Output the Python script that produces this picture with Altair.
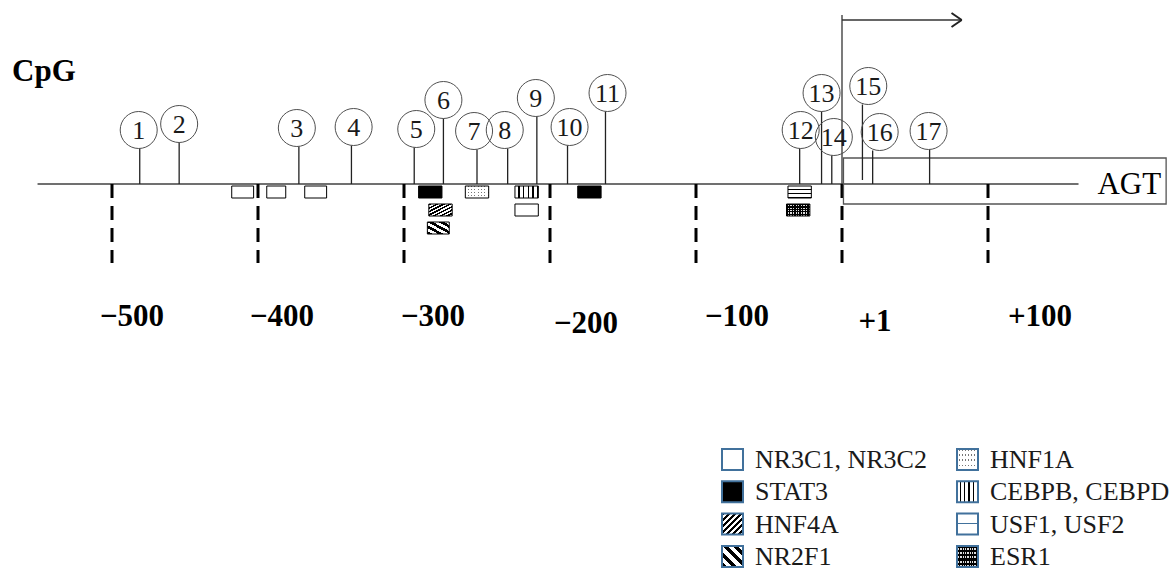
import altair as alt
import pandas as pd

# ---------------- data ----------------
tick_values = [-500, -400, -300, -200, -100, 0, 100]
tick_labels = ["\u2212500", "\u2212400", "\u2212300", "\u2212200", "\u2212100", "+1", "+100"]

cpg_ids = list(range(1, 18))
cpg_pos = [-481, -454, -372, -336, -293, -273, -250, -229, -209, -188, -162,
           -29, -14, -7, 14, 21, 60]

tf_site_names = ["NR3C1, NR3C2", "NR3C1, NR3C2", "NR3C1, NR3C2", "STAT3", "HNF4A",
                 "NR2F1", "HNF1A", "CEBPB, CEBPD", "NR3C1, NR3C2", "STAT3",
                 "USF1, USF2", "ESR1"]
tf_site_start = [-418, -394, -368, -290, -283, -284, -258, -224, -224, -181, -37, -38]
tf_site_end = [-403, -381, -353, -274, -267, -269, -242, -208, -208, -165, -21, -22]

legend_names = ["NR3C1, NR3C2", "STAT3", "HNF4A", "NR2F1",
                "HNF1A", "CEBPB, CEBPD", "USF1, USF2", "ESR1"]

track_start, track_end = -551, 162
agt_start, agt_end = 1, 222
tss_pos = 0
arrow_tip = 82
gene_name = "AGT"
track_title = "CpG"

# ---------------- layout (pixels) ----------------
W, H_TOP, H_LEG = 1171, 420, 150
PX0 = 842          # pixel column of +1
PX_PER_BP = 1.46
X_DOMAIN = [-PX0 / PX_PER_BP, (W - PX0) / PX_PER_BP]
LINE_Y = 184
circle_y = [130, 124, 128, 127, 129, 100, 131, 130, 98, 127, 93, 130, 93, 137, 86, 132, 131]
circle_shift = [-0.7, 0, -1.4, 1.5, 1.4, 0, -2, -2, -0.7, 1.4, 1.4, 0.7, 0, 1.4, 4, 4.8, -0.7]
stem_base = [184] * 14 + [180, 184, 184]
CIRCLE_R = 18.5
label_shift_px = [20, 24, 29, 36, 41, 33, 52]
label_base_y = [326, 326, 326, 333, 326, 331, 326]
tf_row = [0, 0, 0, 0, 1, 2, 0, 0, 1, 0, 0, 1]

SERIF = "Liberation Serif"


def xenc(field):
    return alt.X(f"{field}:Q", scale=alt.Scale(domain=X_DOMAIN, nice=False, zero=False), axis=None)


def yenc(field):
    return alt.Y(f"{field}:Q", scale=alt.Scale(domain=[0, H_TOP], reverse=True, nice=False, zero=False),
                 axis=None)


def lxenc(field):
    return alt.X(f"{field}:Q", scale=alt.Scale(domain=[0, W], nice=False, zero=False), axis=None)


def lyenc(field):
    return alt.Y(f"{field}:Q", scale=alt.Scale(domain=[H_TOP, H_TOP + H_LEG], reverse=True, nice=False,
                                                zero=False), axis=None)


def stripes(k, frac, on, off, x1, y1, x2, y2):
    stops = []
    for i in range(k):
        a = i / k
        b = (i + frac) / k
        c = (i + 1) / k
        stops += [alt.GradientStop(color=on, offset=a), alt.GradientStop(color=on, offset=b),
                  alt.GradientStop(color=off, offset=b), alt.GradientStop(color=off, offset=c)]
    return alt.LinearGradient(gradient="linear", stops=stops, x1=x1, y1=y1, x2=x2, y2=y2)


patterns = {
    "NR3C1, NR3C2": ["white"],
    "STAT3": ["black"],
    "HNF4A": [stripes(7, 0.5, "black", "white", 0, 0, 1, 1)],
    "NR2F1": [stripes(4, 0.5, "black", "white", 0, 1, 1, 0)],
    "HNF1A": [stripes(4, 0.3, "#777777", "white", 0, 0, 0, 1),
              stripes(7, 0.7, "white", "transparent", 0, 0, 1, 0)],
    "CEBPB, CEBPD": [stripes(5, 0.72, "white", "black", 0, 0, 1, 0)],
    "USF1, USF2": [stripes(3, 0.8, "white", "black", 0, 0, 0, 1)],
    "ESR1": [stripes(5, 0.5, "black", "#dddddd", 0, 0, 0, 1),
             stripes(9, 0.5, "black", "transparent", 0, 0, 1, 0)],
}
legend_patterns = dict(patterns)
legend_patterns["USF1, USF2"] = [stripes(2, 0.9, "white", "#41719C", 0, 0, 0, 1)]

# ---------------- frames ----------------
df_track = pd.DataFrame({"s": [track_start], "e": [track_end]})
df_agt = pd.DataFrame({"s": [agt_start], "e": [agt_end], "name": [gene_name]})
df_arrow = pd.DataFrame({"x": [tss_pos], "xe": [arrow_tip]})
df_arrow["xb"] = df_arrow["xe"] - 7

df_ticks = pd.DataFrame({"tick": tick_values, "label": tick_labels,
                         "shift": label_shift_px, "ly": label_base_y})
df_ticks["lx"] = df_ticks["tick"] + df_ticks["shift"] / PX_PER_BP

df_cpg = pd.DataFrame({"id": [str(i) for i in cpg_ids], "pos": cpg_pos, "cy": circle_y,
                       "shift": circle_shift, "base": stem_base})
df_cpg["cx"] = df_cpg["pos"] + df_cpg["shift"]
df_cpg["top"] = df_cpg["cy"] + CIRCLE_R

df_tf = pd.DataFrame({"tf": tf_site_names, "s": tf_site_start, "e": tf_site_end, "row": tf_row})
df_tf["top"] = 186 + df_tf["row"] * 18
df_tf["bot"] = df_tf["top"] + 12

df_leg = pd.DataFrame({"tf": legend_names})
df_leg["col"] = [i // 4 for i in range(len(legend_names))]
df_leg["row"] = [i % 4 for i in range(len(legend_names))]
df_leg["xl"] = 722 + df_leg["col"] * 235
df_leg["xr"] = df_leg["xl"] + 21
df_leg["yt"] = 449 + df_leg["row"] * 32.3
df_leg["yb"] = df_leg["yt"] + 21
df_leg["tx"] = df_leg["xl"] + 33
df_leg["ty"] = df_leg["yt"] + 11

# ---------------- top panel ----------------
layers = []
layers.append(alt.Chart(df_track).mark_rule(color="#404040", strokeWidth=1.3).encode(
    x=xenc("s"), x2="e", y=alt.value(LINE_Y)))
layers.append(alt.Chart(df_ticks).mark_rule(color="black", strokeWidth=3, strokeDash=[14, 8]).encode(
    x=xenc("tick"), y=alt.value(LINE_Y), y2=alt.value(263)))
layers.append(alt.Chart(df_ticks).mark_text(font=SERIF, fontSize=31, fontWeight="bold", color="black",
                                            align="center", baseline="alphabetic").encode(
    x=xenc("lx"), y=yenc("ly"), text="label:N"))
# transcription start arrow
layers.append(alt.Chart(df_arrow).mark_rule(color="#333333", strokeWidth=1.3).encode(
    x=xenc("x"), y=alt.value(15), y2=alt.value(LINE_Y)))
layers.append(alt.Chart(df_arrow).mark_rule(color="#333333", strokeWidth=1.5).encode(
    x=xenc("x"), x2="xe", y=alt.value(20)))
layers.append(alt.Chart(df_arrow).mark_rule(color="#222222", strokeWidth=2).encode(
    x=xenc("xb"), x2="xe", y=alt.value(13), y2=alt.value(20)))
layers.append(alt.Chart(df_arrow).mark_rule(color="#222222", strokeWidth=2).encode(
    x=xenc("xb"), x2="xe", y=alt.value(27), y2=alt.value(20)))
# AGT gene box
layers.append(alt.Chart(df_agt).mark_rect(fillOpacity=0, stroke="#555555", strokeWidth=1.3).encode(
    x=xenc("s"), x2="e", y=alt.value(158), y2=alt.value(204)))
layers.append(alt.Chart(df_agt).mark_text(font=SERIF, fontSize=31, color="black", align="right",
                                          baseline="alphabetic", dx=-5).encode(
    x=xenc("e"), y=alt.value(194), text="name:N"))
# CpG lollipops
layers.append(alt.Chart(df_cpg).mark_rule(color="#222222", strokeWidth=1.3).encode(
    x=xenc("pos"), y=yenc("top"), y2="base"))
layers.append(alt.Chart(df_cpg).mark_point(shape="circle", size=(2 * CIRCLE_R) ** 2, filled=False,
                                           color="#505050", strokeWidth=1, opacity=1).encode(
    x=xenc("cx"), y=yenc("cy")))
layers.append(alt.Chart(df_cpg).mark_text(font=SERIF, fontSize=26, color="#1a1a1a", align="center",
                                          baseline="middle", dy=1).encode(
    x=xenc("cx"), y=yenc("cy"), text="id:N"))
# TF binding sites
for name, fills in patterns.items():
    for f in fills:
        layers.append(alt.Chart(df_tf).transform_filter(alt.datum.tf == name).mark_rect(fill=f).encode(
            x=xenc("s"), x2="e", y=yenc("top"), y2="bot"))
layers.append(alt.Chart(df_tf).mark_rect(fillOpacity=0, stroke="black", strokeWidth=1).encode(
    x=xenc("s"), x2="e", y=yenc("top"), y2="bot"))
# title
layers.append(alt.Chart(df_track).mark_text(font=SERIF, fontSize=31, fontWeight="bold", color="black",
                                            align="left", baseline="alphabetic", text=track_title).encode(
    x=alt.value(12), y=alt.value(81)))

top = alt.layer(*layers).properties(width=W, height=H_TOP)

# ---------------- legend panel ----------------
leg_layers = []
for name, fills in legend_patterns.items():
    for f in fills:
        leg_layers.append(alt.Chart(df_leg).transform_filter(alt.datum.tf == name).mark_rect(fill=f).encode(
            x=lxenc("xl"), x2="xr", y=lyenc("yt"), y2="yb"))
leg_layers.append(alt.Chart(df_leg).mark_rect(fillOpacity=0, stroke="#41719C", strokeWidth=2).encode(
    x=lxenc("xl"), x2="xr", y=lyenc("yt"), y2="yb"))
leg_layers.append(alt.Chart(df_leg).mark_text(font=SERIF, fontSize=26, color="#1a1a1a", align="left",
                                              baseline="middle").encode(
    x=lxenc("tx"), y=lyenc("ty"), text="tf:N"))
legend = alt.layer(*leg_layers).properties(width=W, height=H_LEG)

chart = alt.vconcat(top, legend, spacing=0, bounds="flush").properties(
    padding=0, background="white"
).configure_view(stroke=None)

chart.save("out.html", embed_options={"renderer": "svg", "actions": False})
